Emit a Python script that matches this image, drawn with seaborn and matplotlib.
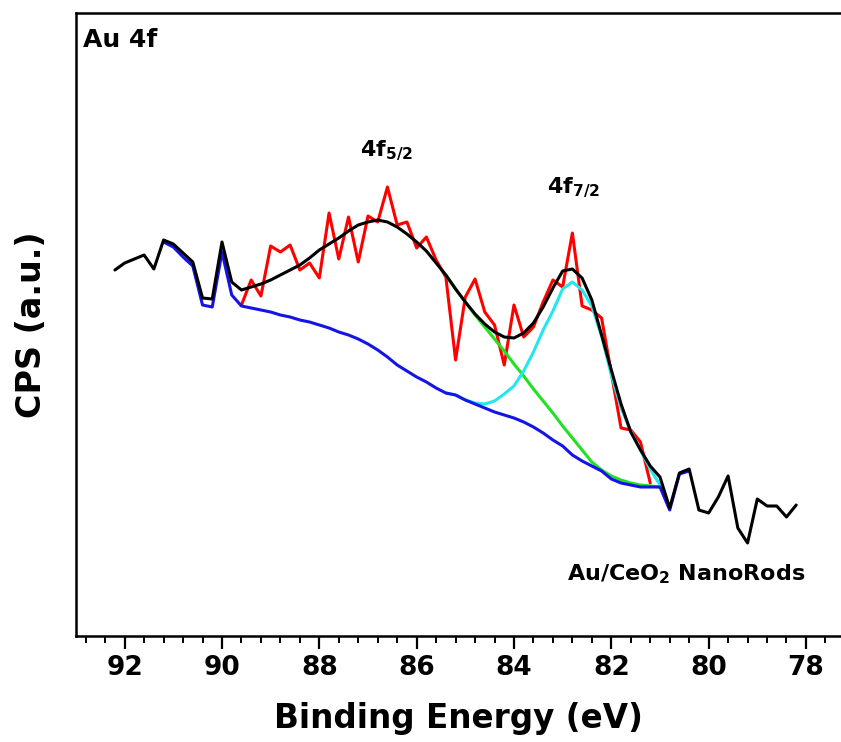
import matplotlib
matplotlib.use("Agg")
import matplotlib.pyplot as plt
import seaborn as sns
import pandas as pd
from matplotlib.ticker import MultipleLocator

# ---------------- data (binding energy in eV, intensity in arbitrary CPS units) ----------------
e_left = [92.2, 92.0, 91.8, 91.6, 91.4, 91.2, 91.0, 90.8, 90.6, 90.4, 90.2, 90.0, 89.8]
raw_left = [366, 373, 377, 381, 367, 396, 392, 383, 374, 338, 337, 394, 354]

e_fit = [89.6, 89.4, 89.2, 89.0, 88.8, 88.6, 88.4, 88.2, 88.0, 87.8, 87.6, 87.4, 87.2, 87.0,
         86.8, 86.6, 86.4, 86.2, 86.0, 85.8, 85.6, 85.4, 85.2, 85.0, 84.8, 84.6, 84.4, 84.2,
         84.0, 83.8, 83.6, 83.4, 83.2, 83.0, 82.8, 82.6, 82.4, 82.2, 82.0, 81.8, 81.6, 81.4, 81.2]
raw_fit = [331, 356, 340, 390, 384, 391, 366, 373, 358, 423, 377, 419, 374, 420,
           414, 449, 411, 414, 388, 399, 376, 359, 276, 339, 357, 324, 311, 271,
           331, 299, 309, 334, 356, 349, 403, 330, 326, 318, 263, 208, 206, 194, 153]
envelope = [346, 349, 352, 356, 361, 366, 371, 378, 386, 392, 398, 405, 411, 414,
            416, 414, 409, 402, 394, 385, 373, 361, 347, 334, 322, 312, 304, 299,
            298, 303, 313, 329, 348, 365, 367, 358, 336, 301, 266, 232, 204, 186, 170]

e_right = [81.0, 80.8, 80.6, 80.4, 80.2, 80.0, 79.8, 79.6, 79.4, 79.2, 79.0, 78.8, 78.6, 78.4, 78.2]
raw_right = [159, 128, 163, 167, 126, 123, 139, 160, 108, 93, 137, 130, 130, 119, 131]

bg_left = [394, 389, 379, 370, 331, 329, 384, 341]            # 91.2 .. 89.8
bg_fit = [330, 328, 326, 324, 321, 319, 316, 314, 311, 308, 304, 301, 297, 292,
          286, 279, 271, 265, 259, 254, 248, 243, 241, 236, 232, 228, 224, 221,
          218, 214, 209, 203, 196, 190, 181, 175, 170, 165, 157, 153, 151, 149, 149]
bg_right = [149, 126, 162, 165]                                  # 81.0 .. 80.4

e_comp = [85.4, 85.2, 85.0, 84.8, 84.6, 84.4, 84.2, 84.0, 83.8, 83.6, 83.4, 83.2,
          83.0, 82.8, 82.6, 82.4, 82.2, 82.0, 81.8, 81.6, 81.4, 81.2, 81.0]
peak_52 = [361, 347, 334, 321, 309, 297, 285, 272, 260, 247, 235, 223,
           210, 198, 186, 174, 166, 160, 156, 153, 151, 150, 149]
peak_72 = [243, 241, 236, 233, 232, 235, 242, 250, 265, 284, 306, 325,
           347, 354, 346, 330, 300, 261, 228, 205, 186, 167, 151]

x_ticks = [92, 90, 88, 86, 84, 82, 80, 78]

# ---------------- tables ----------------
df_black = pd.DataFrame({"E": e_left + e_fit + e_right,
                         "CPS": raw_left + envelope + raw_right})
df_red = pd.DataFrame({"E": e_fit, "CPS": raw_fit})
df_blue = pd.DataFrame({"E": e_left[5:] + e_fit + e_right[:4],
                        "CPS": bg_left + bg_fit + bg_right})
df_green = pd.DataFrame({"E": e_comp, "CPS": peak_52})
df_cyan = pd.DataFrame({"E": e_comp, "CPS": peak_72})

# ---------------- style ----------------
sns.set_style("ticks")
plt.rcParams["font.family"] = ["DejaVu Sans"]
plt.rcParams["font.weight"] = "bold"
plt.rcParams["mathtext.default"] = "regular"
plt.rcParams["text.color"] = "black"
plt.rcParams["axes.labelcolor"] = "black"
plt.rcParams["xtick.color"] = "black"

fig = plt.figure(figsize=(8.41, 7.42), dpi=100)
ax = fig.add_axes([76 / 841, 1 - 636 / 742, 1 - 76 / 841, (636 - 13) / 742])

lw = 2.2
kw = dict(x="E", y="CPS", sort=False, estimator=None, ax=ax, legend=False)
sns.lineplot(data=df_red, color="#ff0000", linewidth=lw, **kw)
sns.lineplot(data=df_green, color="#22e022", linewidth=lw, **kw)
sns.lineplot(data=df_cyan, color="#22e6f0", linewidth=lw, **kw)
sns.lineplot(data=df_blue, color="#1414e6", linewidth=lw, **kw)
sns.lineplot(data=df_black, color="#000000", linewidth=lw, **kw)

ax.set_xlim(93.0, 77.28)
ax.set_ylim(0, 623)
ax.set_xticks(x_ticks)
ax.set_xticklabels([str(t) for t in x_ticks])
ax.xaxis.set_minor_locator(MultipleLocator(0.4))
ax.set_yticks([])
ax.tick_params(axis="x", which="major", direction="out", length=9.5, width=1.6,
               labelsize=19, pad=4)
ax.tick_params(axis="x", which="minor", direction="out", length=5, width=1.4)
for lab in ax.get_xticklabels():
    lab.set_fontweight("bold")

for side in ["left", "top", "bottom"]:
    ax.spines[side].set_linewidth(1.8)
    ax.spines[side].set_color("black")
ax.spines["right"].set_visible(False)

ax.set_xlabel("Binding Energy (eV)", fontsize=23.5, fontweight="bold", labelpad=15)
ax.set_ylabel("CPS (a.u.)", fontsize=24, fontweight="bold", labelpad=20)

fig.text(83 / 841, 1 - 47 / 742, "Au 4f", fontsize=18, fontweight="bold",
         va="baseline", ha="left")
fig.text(360 / 841, 1 - 156 / 742, "4f$_{5/2}$", fontsize=16, fontweight="bold",
         va="baseline", ha="left")
fig.text(547 / 841, 1 - 193 / 742, "4f$_{7/2}$", fontsize=16, fontweight="bold",
         va="baseline", ha="left")
fig.text(567 / 841, 1 - 580 / 742, "Au/CeO$_2$ NanoRods", fontsize=16, fontweight="bold",
         va="baseline", ha="left")

fig.savefig("out.png", dpi=100)
